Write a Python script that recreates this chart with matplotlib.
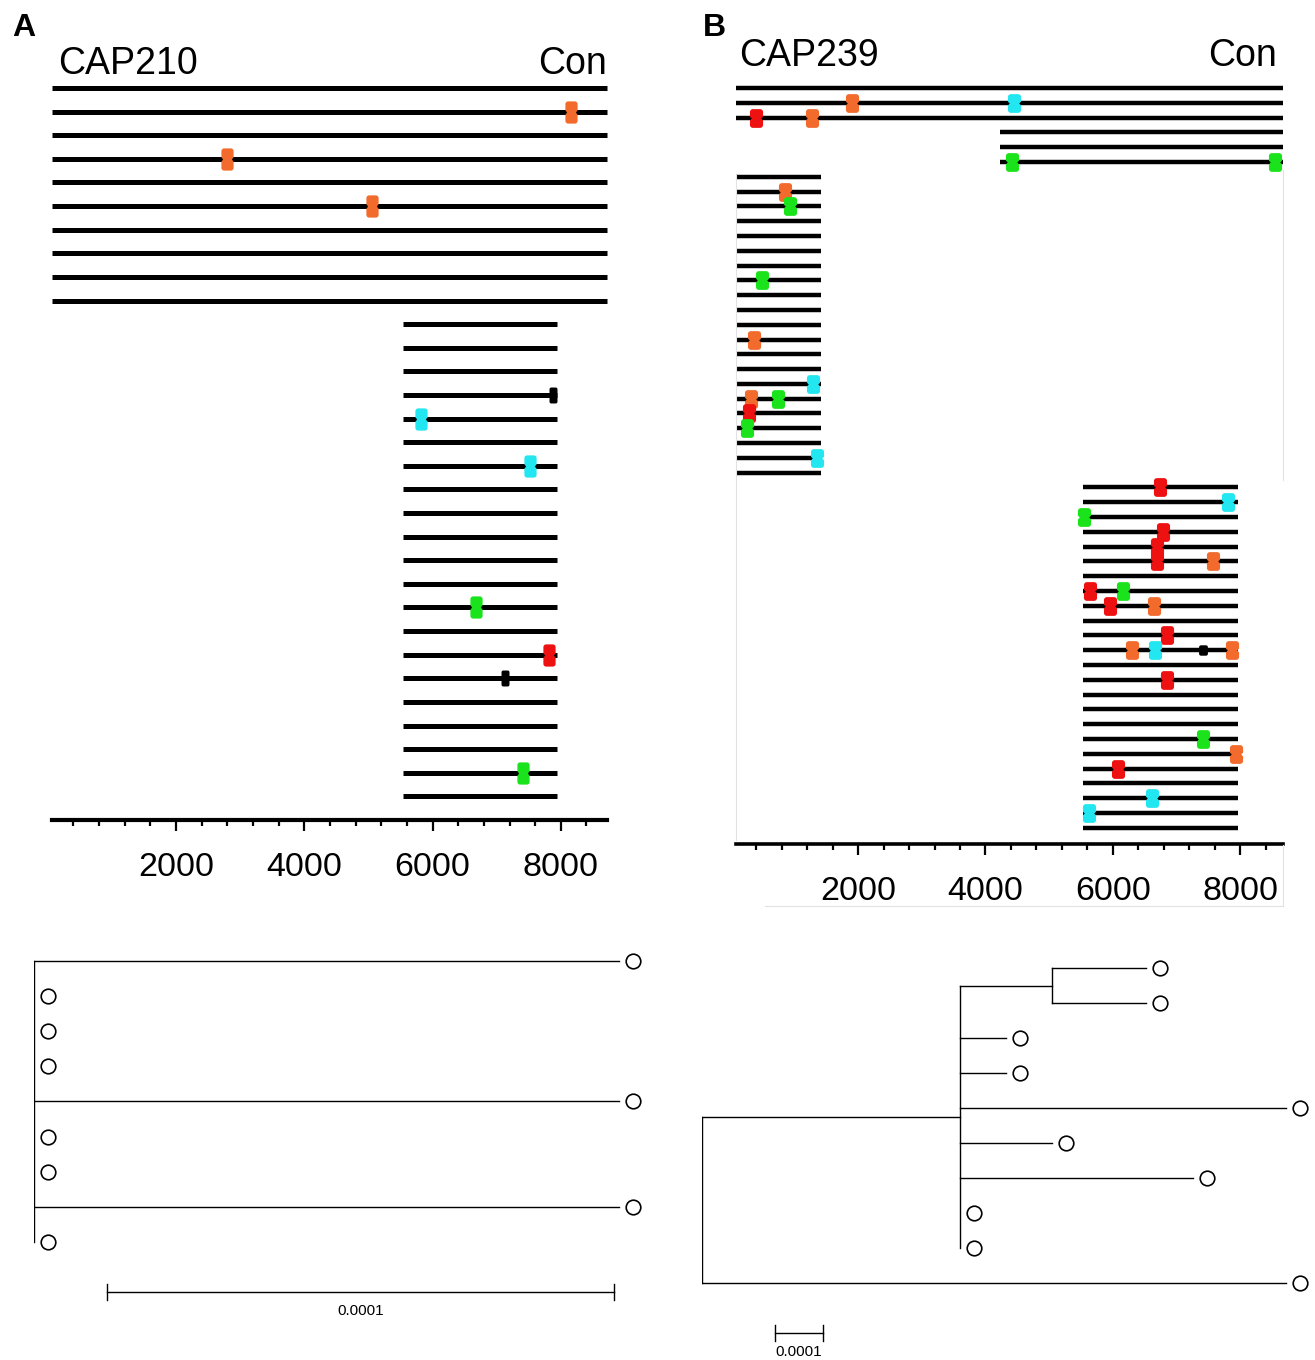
import numpy as np
import matplotlib
matplotlib.use("Agg")
import matplotlib.pyplot as plt
from matplotlib.path import Path
from matplotlib import transforms
from matplotlib.ticker import MultipleLocator

plt.rcParams['font.family'] = ['Liberation Sans', 'DejaVu Sans']

W, H = 1315, 1360

# ---- panel A: CAP210 sequences (genome coordinates) ----
a_start = [66] * 10 + [5540] * 21
a_end = [8720] * 10 + [7945] * 21
a_mut_row = [1, 3, 5, 13, 14, 16, 22, 24, 25, 29]
a_mut_pos = [8163, 2788, 5058, 7882, 5823, 7523, 6680, 7819, 7133, 7414]
a_mut_col = ['orange', 'orange', 'orange', 'black', 'cyan', 'cyan',
             'green', 'red', 'black', 'green']

# ---- panel B: CAP239 sequences ----
b_start = [86] * 3 + [4227] * 3 + [86] * 21 + [5529] * 24
b_end = [8667] * 3 + [8667] * 3 + [1420] * 21 + [7961] * 24
b_mut_row = [1, 1, 2, 2, 5, 5, 7, 8, 13, 17, 20, 21, 21, 22, 23, 25,
             27, 28, 29, 30, 31, 32, 32, 34, 34, 35, 35, 37,
             38, 38, 38, 38, 40, 44, 45, 46, 48, 49]
b_mut_pos = [1901, 4453, 406, 1286, 4411, 8541, 860, 933, 489, 374, 1299, 322, 740, 295, 264, 1352,
             6737, 7809, 5545, 6780, 6686, 6686, 7564, 5639, 6162, 5953, 6643, 6852,
             6293, 6659, 7417, 7871, 6852, 7407, 7925, 6083, 6607, 5628]
b_mut_col = ['orange', 'cyan', 'red', 'orange', 'green', 'green', 'orange', 'green', 'green',
             'orange', 'cyan', 'orange', 'green', 'red', 'green', 'cyan',
             'red', 'cyan', 'green', 'red', 'red', 'red', 'orange', 'red', 'green',
             'red', 'orange', 'red', 'orange', 'cyan', 'black', 'orange', 'red',
             'green', 'orange', 'red', 'cyan', 'cyan']

# ---- trees (branch lengths in units of 1e-4 substitutions/site) ----
tree_a_parent = [-1, 0, 0, 0, 0, 0, 0, 0, 0, 0]
tree_a_length = [0, 1.154, 0, 0, 0, 1.154, 0, 0, 1.154, 0]
tree_b_parent = [-1, 0, 1, 2, 2, 1, 1, 1, 1, 1, 1, 1, 0]
tree_b_length = [0, 5.40, 1.93, 1.98, 1.98, 0.97, 0.97, 6.84, 1.94, 4.89, 0, 0, 12.24]

palette = {'orange': '#F26A2C', 'cyan': '#22E6F0', 'green': '#1BE31B',
           'red': '#EE1111', 'black': 'black'}

fig = plt.figure(figsize=(W / 100, H / 100), dpi=100)


def px_axes(l, t, r, b):
    ax = fig.add_axes([l / W, 1 - b / H, (r - l) / W, (b - t) / H])
    return ax


def arc(cx, cy, r, a0, a1):
    t = np.linspace(a0, a1, 8)
    return np.column_stack([cx + r * np.cos(t), cy + r * np.sin(t)])


def pill(ratio, notch=True):
    # rounded rectangle (height 1) with a small waist where the sequence line passes
    a = ratio / 2
    rc = 0.45 * a
    d = 0.28 * a if notch else 0.0
    nh = 0.1
    pts = [[a, -nh], [a - d, 0], [a, nh]]
    pts += list(arc(a - rc, 0.5 - rc, rc, 0, np.pi / 2))
    pts += list(arc(-a + rc, 0.5 - rc, rc, np.pi / 2, np.pi))
    pts += [[-a, nh], [-a + d, 0], [-a, -nh]]
    pts += list(arc(-a + rc, -0.5 + rc, rc, np.pi, 1.5 * np.pi))
    pts += list(arc(a - rc, -0.5 + rc, rc, 1.5 * np.pi, 2 * np.pi))
    pts.append(pts[0])
    return Path(np.array(pts), closed=True)


def gene_panel(ax, starts, ends, rows_n, lw, mrow, mpos, mcol, xlim, big, small):
    rows = np.arange(len(starts))
    ax.hlines(rows, starts, ends, color='black', lw=lw, capstyle='butt', clip_on=False)
    for r, p, c in zip(mrow, mpos, mcol):
        h, ratio = (small if c == 'black' else big)
        ax.plot(p, r, marker=pill(ratio, c != 'black'), ms=h, color=palette[c], mec='none',
                ls='none', clip_on=False, zorder=5)
    ax.set_xlim(*xlim)
    ax.set_ylim(rows_n, -1)
    for s in ['top', 'left', 'right']:
        ax.spines[s].set_visible(False)
    ax.spines['bottom'].set_linewidth(3)
    ax.set_yticks([])
    ax.xaxis.set_major_locator(MultipleLocator(2000))
    ax.xaxis.set_minor_locator(MultipleLocator(400))
    ax.tick_params(axis='x', which='major', length=8, width=1.6, labelsize=24.5, pad=15)
    ax.tick_params(axis='x', which='minor', length=4.2, width=1.6)
    ax.set_xticks([2000, 4000, 6000, 8000])
    ax.patch.set_alpha(0)


# panel A genes
axA = px_axes(52, 64.4, 607, 820)
gene_panel(axA, a_start, a_end, 31, 3.6, a_mut_row, a_mut_pos, a_mut_col,
           (66, 8720), (16.0, 0.55), (11.5, 0.5))

# panel B genes
axB = px_axes(736, 73.2, 1283, 844)
gene_panel(axB, b_start, b_end, 51.1, 3.2, b_mut_row, b_mut_pos, b_mut_col,
           (86, 8667), (13.5, 0.7), (7.5, 0.85))
axB.spines['bottom'].set_linewidth(2.6)

# faint frame edges of the B panel image
frame = '#e2e2e2'
fig.add_artist(plt.Line2D([1283 / W, 1283 / W], [1 - 170 / H, 1 - 480 / H], color=frame, lw=0.8))
fig.add_artist(plt.Line2D([736 / W, 736 / W], [1 - 175 / H, 1 - 840 / H], color=frame, lw=0.8))
fig.add_artist(plt.Line2D([765 / W, 1283 / W], [1 - 906 / H, 1 - 906 / H], color=frame, lw=0.8))
fig.add_artist(plt.Line2D([1283 / W, 1283 / W], [1 - 845 / H, 1 - 906 / H], color=frame, lw=0.8))

# titles
fig.text(12 / W, 1 - 36 / H, 'A', fontsize=23, fontweight='bold', va='baseline')
fig.text(703 / W, 1 - 36 / H, 'B', fontsize=23, fontweight='bold', va='baseline')
fig.text(58 / W, 1 - 74 / H, 'CAP210', fontsize=27, va='baseline')
fig.text(607 / W, 1 - 74 / H, 'Con', fontsize=27, va='baseline', ha='right')
fig.text(739 / W, 1 - 66 / H, 'CAP239', fontsize=27, va='baseline')
fig.text(1277 / W, 1 - 66 / H, 'Con', fontsize=27, va='baseline', ha='right')


def tree_coords(parent, length):
    n = len(parent)
    x = np.zeros(n)
    for i in range(1, n):
        x[i] = x[parent[i]] + length[i]
    children = {i: [j for j in range(n) if parent[j] == i] for i in range(n)}
    leaves = [i for i in range(n) if not children[i]]
    y = np.zeros(n)
    for k, leaf in enumerate(leaves):
        y[leaf] = k
    for i in reversed(range(n)):
        if children[i]:
            ys = [y[c] for c in children[i]]
            y[i] = (min(ys) + max(ys)) / 2
    return x, y, children, leaves


def draw_tree(ax, parent, length, bar_x, bar_y, cap):
    x, y, children, leaves = tree_coords(parent, length)
    for i in range(1, len(parent)):
        ax.plot([x[parent[i]], x[i]], [y[i], y[i]], color='black', lw=1.0)
    for i in children:
        if children[i]:
            ys = [y[c] for c in children[i]]
            ax.plot([x[i], x[i]], [min(ys), max(ys)], color='black', lw=1.0)
    shift = transforms.offset_copy(ax.transData, fig=fig, x=14, y=0, units='dots')
    ax.plot(x[leaves], y[leaves], 'o', ms=10.5, mfc='white', mec='black', mew=1.2,
            transform=shift, clip_on=False)
    ax.plot([bar_x, bar_x + 1], [bar_y, bar_y], color='black', lw=1.0)
    ax.plot([bar_x, bar_x], [bar_y - cap, bar_y + cap], color='black', lw=1.0)
    ax.plot([bar_x + 1, bar_x + 1], [bar_y - cap, bar_y + cap], color='black', lw=1.0)
    ax.axis('off')


# tree A: root at px 34, 507 px per 1e-4, rows 35.1 px apart from y=961
tA = px_axes(34, 940, 634, 1330)
draw_tree(tA, tree_a_parent, tree_a_length, 0.144, 9.43, 0.23)
tA.set_xlim(0, 600 / 507)
tA.set_ylim((1330 - 961) / 35.1, (940 - 961) / 35.1)
tA.text(0.644, 9.97, '0.0001', fontsize=11, ha='center', va='center')

# tree B: root at px 702, 47.7 px per 1e-4, rows 35 px apart from y=968
tB = px_axes(702, 940, 1310, 1360)
draw_tree(tB, tree_b_parent, tree_b_length, 1.53, (1333 - 968) / 35.0, 0.23)
tB.set_xlim(0, 608 / 47.7)
tB.set_ylim((1360 - 968) / 35.0, (940 - 968) / 35.0)
tB.text(2.03, (1352 - 968) / 35.0, '0.0001', fontsize=11, ha='center', va='center')

fig.savefig('out.png', dpi=100)
